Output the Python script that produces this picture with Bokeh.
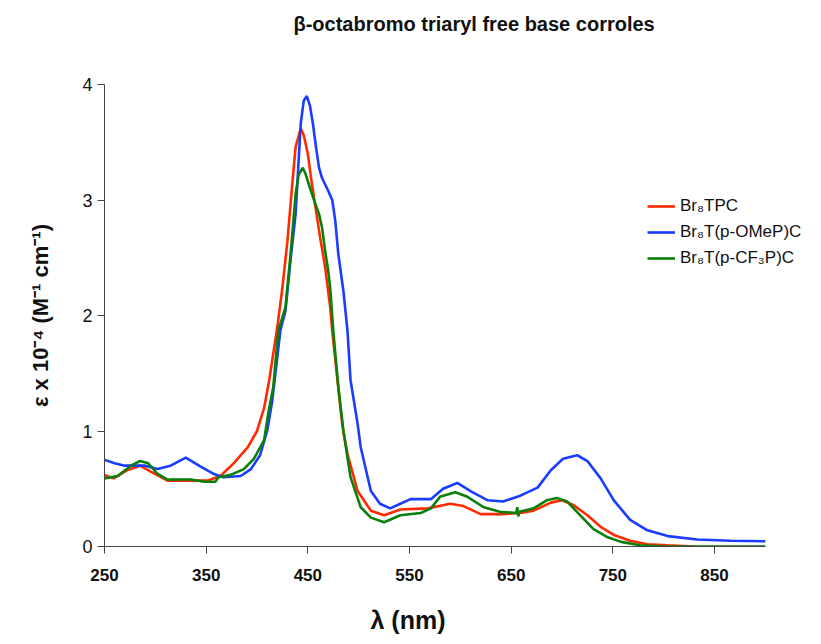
from bokeh.plotting import figure
from bokeh.models import Range1d, FixedTicker, Legend, LegendItem, Title
from bokeh.embed import file_html
from bokeh.resources import INLINE

# ---- data ----
wl_red = [250, 259, 272, 285, 295, 312, 335, 351, 364, 377, 391, 400, 407, 412, 420, 425, 430, 435,
          438, 443, 446, 450, 453, 458, 462, 467, 472, 474, 481, 484, 489, 499, 512, 525, 541, 568,
          590, 603, 620, 640, 659, 672, 689, 700, 711, 725, 738, 751, 767, 784, 804, 830]
eps_red = [0.62, 0.59, 0.66, 0.70, 0.65, 0.57, 0.57, 0.57, 0.61, 0.72, 0.86, 1.00, 1.20, 1.44, 1.90,
           2.24, 2.65, 3.17, 3.46, 3.62, 3.56, 3.40, 3.20, 2.91, 2.68, 2.42, 2.07, 1.87, 1.29, 1.05,
           0.80, 0.48, 0.31, 0.27, 0.32, 0.33, 0.37, 0.35, 0.28, 0.28, 0.29, 0.31, 0.38, 0.40, 0.36,
           0.27, 0.17, 0.10, 0.05, 0.02, 0.01, 0.0]

wl_blue = [250, 260, 270, 280, 290, 302, 315, 330, 345, 357, 367, 384, 394, 403, 410, 415, 423, 428,
           433, 438, 443, 446, 449, 452, 455, 458, 461, 464, 470, 474, 477, 480, 485, 489, 492, 499,
           502, 512, 521, 531, 541, 551, 571, 583, 597, 610, 627, 642, 659, 676, 689, 701, 715, 725,
           738, 751, 767, 784, 804, 833, 866, 900]
eps_blue = [0.75, 0.72, 0.70, 0.70, 0.70, 0.67, 0.70, 0.77, 0.69, 0.63, 0.60, 0.61, 0.67, 0.79, 1.00,
            1.26, 1.87, 2.04, 2.48, 2.88, 3.66, 3.86, 3.90, 3.82, 3.66, 3.46, 3.28, 3.19, 3.08, 3.00,
            2.82, 2.53, 2.21, 1.87, 1.44, 1.06, 0.86, 0.48, 0.37, 0.33, 0.37, 0.41, 0.41, 0.50, 0.55,
            0.48, 0.40, 0.39, 0.44, 0.51, 0.66, 0.76, 0.79, 0.74, 0.59, 0.40, 0.23, 0.14, 0.09, 0.06,
            0.05, 0.045]

wl_green = [250, 263, 276, 285, 293, 302, 312, 335, 348, 359, 362, 374, 387, 397, 407, 411, 416, 421,
            428, 433, 438, 441, 445, 448, 453, 458, 461, 464, 467, 470, 472, 475, 480, 485, 492, 502,
            512, 525, 541, 561, 571, 580, 595, 607, 623, 639, 655, 656, 657, 658, 672, 685, 695, 705,
            718, 731, 745, 758, 777, 800, 900]
eps_green = [0.59, 0.61, 0.70, 0.74, 0.72, 0.63, 0.58, 0.58, 0.56, 0.56, 0.60, 0.62, 0.67, 0.76, 0.92,
             1.15, 1.38, 1.87, 2.07, 2.53, 3.05, 3.22, 3.28, 3.22, 3.08, 2.95, 2.88, 2.76, 2.56, 2.39,
             2.24, 1.87, 1.38, 1.00, 0.60, 0.34, 0.25, 0.21, 0.27, 0.29, 0.33, 0.43, 0.47, 0.43, 0.34,
             0.30, 0.29, 0.34, 0.26, 0.30, 0.33, 0.40, 0.42, 0.39, 0.27, 0.15, 0.08, 0.04, 0.01, 0.0,
             0.0]

series_names = ["Br\u2088TPC", "Br\u2088T(p-OMeP)C", "Br\u2088T(p-CF\u2083P)C"]
series_colors = ["#ff2a00", "#1a3cff", "#0a800a"]
x_ticks = [250, 350, 450, 550, 650, 750, 850]
y_ticks = [0, 1, 2, 3, 4]
title_text = "\u03b2-octabromo triaryl free base corroles"
x_label = "\u03bb (nm)"
y_label = "\u03b5 x 10\u207b\u2074 (M\u207b\u00b9 cm\u207b\u00b9)"

# frame: x 104..819 px, 250 nm at 104 px, 850 nm at 714 px -> 1.01667 px/nm
x_end = 250 + 715 / 1.016667

p = figure(width=821, height=644, output_backend="svg", toolbar_location=None, title=None,
           x_range=Range1d(250, x_end), y_range=Range1d(0, 4),
           min_border_left=104, min_border_right=2, min_border_top=84, min_border_bottom=98)
p.outline_line_color = None
p.xgrid.visible = False
p.ygrid.visible = False

r1 = p.line(wl_red, eps_red, line_color=series_colors[0], line_width=2.6)
r2 = p.line(wl_blue, eps_blue, line_color=series_colors[1], line_width=2.6)
r3 = p.line(wl_green, eps_green, line_color=series_colors[2], line_width=2.6)

for ax in (p.xaxis[0], p.yaxis[0]):
    ax.axis_line_color = "#444444"
    ax.major_tick_line_color = "#444444"
    ax.major_tick_out = 7
    ax.major_tick_in = 0
    ax.minor_tick_line_color = None
    ax.major_label_text_color = "#111111"

p.xaxis.bounds = (250, 900)
p.xaxis.ticker = FixedTicker(ticks=x_ticks)
p.yaxis.ticker = FixedTicker(ticks=y_ticks)
p.xaxis.major_label_text_font = "Liberation Sans"
p.xaxis.major_label_text_font_style = "bold"
p.xaxis.major_label_text_font_size = "17px"
p.xaxis.major_label_standoff = 15
p.yaxis.major_label_text_font = "Liberation Sans"
p.yaxis.major_label_text_font_size = "18px"
p.yaxis.major_label_standoff = 5

p.yaxis.axis_label = y_label
p.yaxis.axis_label_text_font = "Liberation Sans"
p.yaxis.axis_label_text_font_style = "bold"
p.yaxis.axis_label_text_font_size = "22px"
p.yaxis.axis_label_standoff = 26
p.yaxis.axis_label_text_color = "#111111"

# spacer first (nearest the frame), then the title further out
p.add_layout(Title(text=" ", text_font_size="30px"), "above")
p.add_layout(Title(text=title_text, align="left", offset=189, text_font="Liberation Sans",
                   text_font_style="bold", text_font_size="20px", text_color="#111111"), "above")

p.add_layout(Title(text=" ", text_font_size="14px", standoff=0), "below")
p.add_layout(Title(text=x_label, align="left", offset=266, standoff=4, text_font="Liberation Sans",
                   text_font_style="bold", text_font_size="25px", text_color="#111111"), "below")

legend = Legend(items=[LegendItem(label=series_names[0], renderers=[r1]),
                       LegendItem(label=series_names[1], renderers=[r2]),
                       LegendItem(label=series_names[2], renderers=[r3])],
                location=(543, 278), padding=0, margin=0, spacing=6,
                glyph_width=28, glyph_height=20, label_height=20, label_standoff=5,
                label_text_font="Liberation Sans", label_text_font_size="17px",
                label_text_color="#111111",
                border_line_color=None, background_fill_alpha=0)
p.add_layout(legend, "center")

open("out.html", "w").write(file_html(p, INLINE))
